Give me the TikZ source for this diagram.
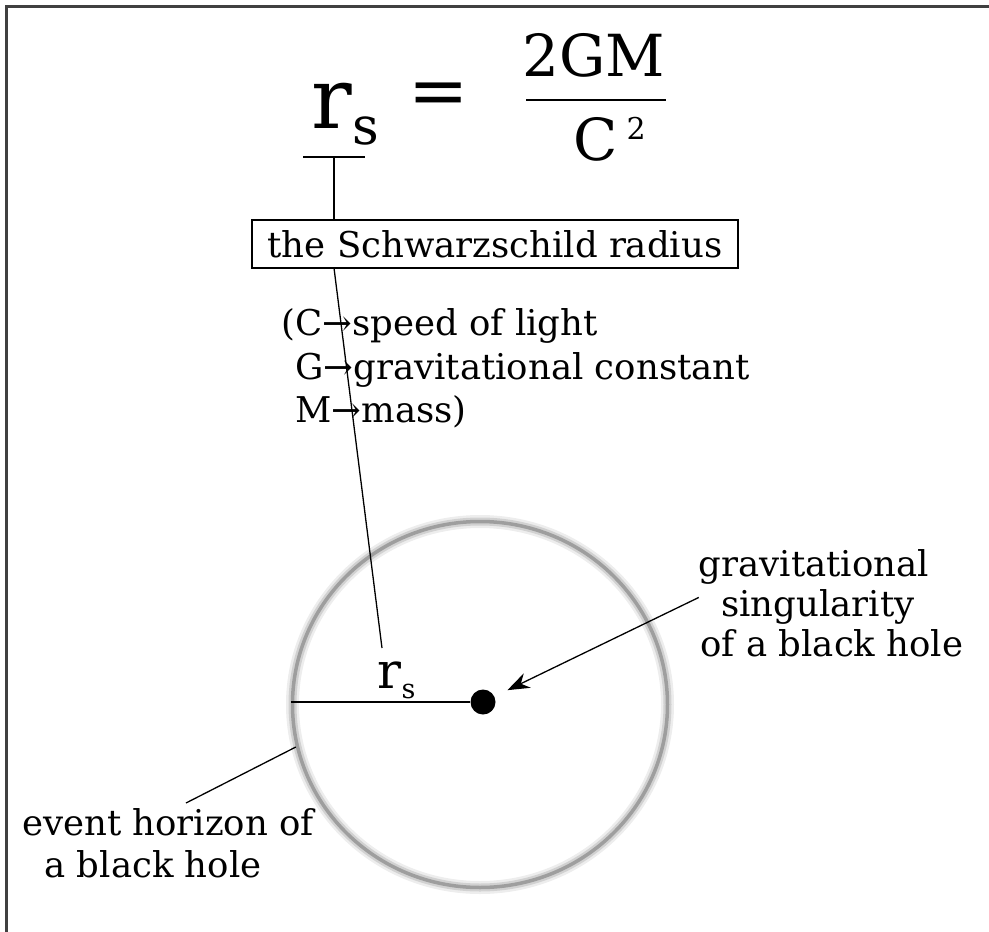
\documentclass[tikz,border=0pt]{standalone}
\usepackage{fontspec}
\setmainfont{DejaVu Serif}
\usetikzlibrary{arrows.meta,shapes.geometric}

\newcommand{\fs}[1]{\fontsize{#1}{#1}\selectfont}

\tikzset{
    lbl/.style={inner sep=0pt, font=\fs{35.5}},
    horizon/.style={ellipse, minimum width=375pt, minimum height=366pt, inner sep=0pt,
        draw=black!38, line width=3.5pt,
        preaction={draw=black!7, line width=13pt},
        preaction={draw=black!18, line width=8pt}},
}

\begin{document}
\begin{tikzpicture}[x=1pt, y=-1pt, line width=1.3pt]
    \useasboundingbox (0,0) rectangle (989,932);
    \draw[line width=3pt, draw=black!75] (6,932) -- (6,6) -- (989,6);

    \node[anchor=base west, inner sep=0pt, font=\fs{85}] (rbig) at (311,128) {r};
    \node[anchor=base west, inner sep=0pt, font=\fs{52}] (sbig) at (352,144) {s};
    \node[inner sep=0pt, font=\fs{72}] (eq) at (439,99) {=};
    \node[anchor=base, inner sep=0pt, font=\fs{58}] (num) at (594,76) {2GM};
    \node[anchor=base, inner sep=0pt, font=\fs{58}] (den) at (596,160) {C};
    \node[anchor=base west, inner sep=0pt, font=\fs{30}] (sq) at (626,139) {2};
    \coordinate (barl) at (526,100);
    \coordinate (barr) at (666,100);
    \draw (barl) -- (barr);

    \coordinate (ul) at (303,157);
    \coordinate (ur) at (365,157);
    \coordinate (uc) at (334,157);
    \draw (ul) -- (ur);

    \node[lbl, draw, minimum width=486pt, minimum height=48pt] (srbox) at (495,244) {the Schwarzschild radius};
    \coordinate (bxt) at (334,220);
    \coordinate (bxb) at (334,268);
    \draw (uc) -- (bxt);

    \node[lbl, anchor=base west] (leg1) at (281,335) {(C→speed of light};
    \node[lbl, anchor=base west] (leg2) at (281,379) {\hphantom{(}G→gravitational constant};
    \node[lbl, anchor=base west] (leg3) at (281,422) {\hphantom{(}M→mass)};

    \node[horizon] (hor) at (480,704.5) {};
    \node[circle, fill=black, minimum size=25pt, inner sep=0pt] (sing) at (483,702) {};
    \node[anchor=base west, inner sep=0pt, font=\fs{50}] (rsin) at (377,688) {r\raisebox{-0.2em}{\fs{27}s}};
    \coordinate (rstop) at (382,648);
    \draw (bxb) -- (rstop);
    \draw (hor.west |- sing) -- (sing);

    \node[lbl, anchor=base] (gs1) at (814,576) {gravitational};
    \node[lbl, anchor=base] (gs2) at (818,616) {singularity};
    \node[lbl, anchor=base] (gs3) at (832,656) {of a black hole};
    \draw[-{Stealth[length=22pt, width=16pt]}, shorten >=14pt] ([xshift=-22pt, yshift=9pt]gs2.west) -- (sing);

    \node[lbl, anchor=base] (eh1) at (168,835) {event horizon of};
    \node[lbl, anchor=base] (eh2) at (153,877) {a black hole};
    \coordinate (ehtip) at (186,803);
    \draw (hor.193) -- (ehtip);
\end{tikzpicture}
\end{document}
